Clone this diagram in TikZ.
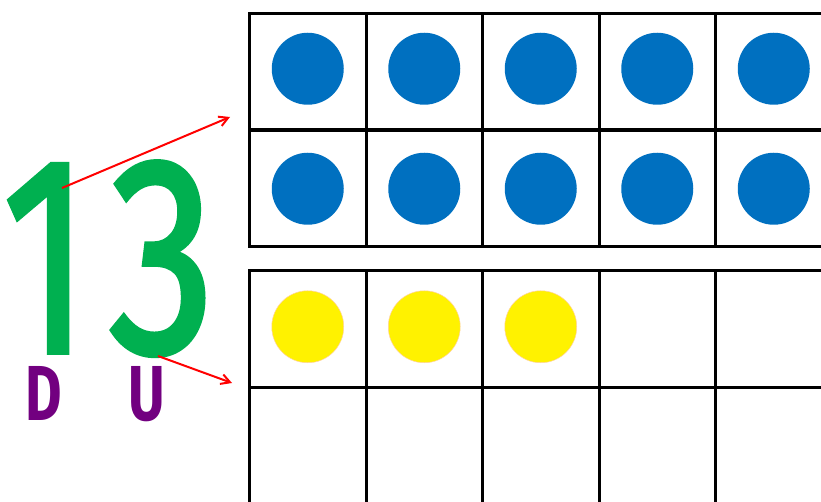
\documentclass[tikz,border=0pt]{standalone}
\usepackage{fontspec}
\setmainfont{Fira Sans}
\newfontfamily\digitfont[FakeBold=2]{Fira Sans}
\usetikzlibrary{arrows.meta,positioning}
\definecolor{dotblue}{HTML}{0070C0}
\definecolor{digitgreen}{HTML}{00B050}
\definecolor{placepurple}{HTML}{720080}
\begin{document}
\begin{tikzpicture}[
        x=1pt,y=-1pt,
        cell/.style={draw=black,line width=3pt,minimum size=116.5pt,inner sep=0pt,anchor=north west},
        blue dot/.style={circle,fill=dotblue,minimum size=72pt,inner sep=0pt},
        yellow dot/.style={circle,fill=yellow,draw=orange!35,line width=0.5pt,minimum size=72pt,inner sep=0pt},
        digit/.style={text=digitgreen,font=\digitfont\fontsize{280}{280}\selectfont,inner sep=0pt,anchor=base},
        place/.style={text=placepurple,font=\bfseries\fontsize{78}{78}\selectfont,inner sep=0pt,anchor=base},
        pointer/.style={red,line width=2pt,-{Straight Barb[length=9pt,width=10pt]}}
    ]
        \useasboundingbox (0,0) rectangle (821,502);
        \clip (0,0) rectangle (821,502);

        % ten frames
        \foreach \r in {1,2} {
            \foreach \c in {1,...,5} {
                \node[cell] (t-\r-\c) at ({248+(\c-1)*116.5},{12+(\r-1)*117}) {};
                \node[cell] (b-\r-\c) at ({248+(\c-1)*116.5},{269+(\r-1)*117}) {};
            }
        }

        % dots
        \foreach \c in {1,...,5} {
            \node[blue dot] at ([yshift=3pt]t-1-\c) {};
            \node[blue dot] at (t-2-\c) {};
        }
        \foreach \c in {1,...,3} {
            \node[yellow dot] at ([yshift=2pt]b-1-\c) {};
        }

        % the number
        \node[digit] (tens) at (46,352) {\scalebox{0.72}[1]{1}};
        \node[digit] (units) at (162,352) {\scalebox{0.76}[1]{3}};
        \node[place] (tens label) at (44,420) {\scalebox{0.72}[1]{D}};
        \node[place] (units label) at (147,420) {\scalebox{0.72}[1]{U}};

        \coordinate (tens tip) at (62,188);
        \coordinate (units tail) at (158,356);
        \draw[pointer] (tens tip) -- ([shift={(-18,-12)}]t-2-1.north west);
        \draw[pointer] (units tail) -- ([shift={(-16,-3)}]b-2-1.north west);
    \end{tikzpicture}
\end{document}
